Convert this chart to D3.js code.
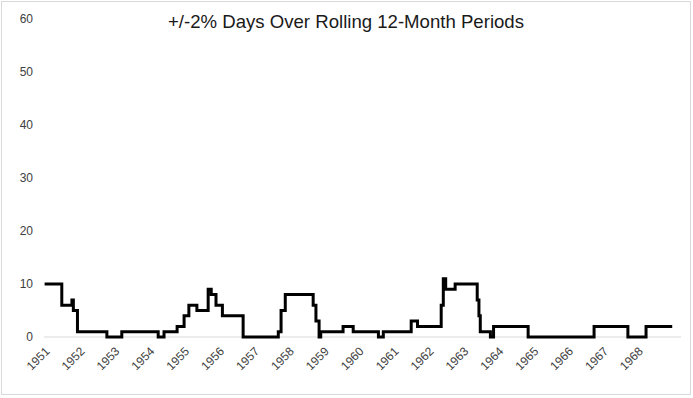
<!DOCTYPE html>
<html>
<head>
    <title>+/-2% Days</title>
    <meta charset="utf-8">
    <script src="https://cdn.jsdelivr.net/npm/d3@7"></script>
    <style>
        body {
            margin: 0;
            background: #fff;
        }
        text {
            font-family: "Liberation Sans", Arial, sans-serif;
        }
        .line {
            fill: none;
            stroke: #000;
            stroke-width: 3px;
            stroke-linejoin: miter;
        }
        .tick-label {
            font-size: 12px;
            fill: #404040;
        }
    </style>
</head>
<body>
    <div id="chart"></div>

    <script>
        // step points: date where the count changes, new count
        const dates = [
            "1951-01-02", "1951-07-01", "1951-10-15", "1951-10-30", "1951-12-12",
            "1952-10-15", "1953-03-20", "1954-04-05", "1954-06-05", "1954-10-20",
            "1955-01-01", "1955-02-20", "1955-05-15", "1955-09-10", "1955-10-12",
            "1955-12-01", "1956-02-06", "1956-09-10", "1957-09-13", "1957-10-12",
            "1957-11-25", "1958-09-13", "1958-10-12", "1958-11-14", "1958-12-01",
            "1959-07-23", "1959-11-06", "1960-07-27", "1960-09-16", "1961-07-05",
            "1961-09-09", "1962-05-15", "1962-06-06", "1962-07-01", "1962-10-08",
            "1963-05-27", "1963-06-14", "1963-06-28", "1963-10-12", "1963-11-14",
            "1964-11-10", "1966-10-01", "1967-09-20", "1968-03-28", "1968-12-27"
        ];
        const counts = [
            10, 6, 7, 5, 1,
            0, 1, 0, 1, 2,
            4, 6, 5, 9, 8,
            6, 4, 0, 1, 5,
            8, 6, 3, 0, 1,
            2, 1, 0, 1, 3,
            2, 6, 11, 9, 10,
            7, 4, 1, 0, 2,
            0, 2, 0, 2, 2
        ];
        const yearLabels = d3.range(1951, 1969);
        const yTicks = [0, 10, 20, 30, 40, 50, 60];
        const title = "+/-2% Days Over Rolling 12-Month Periods";

        const W = 693, H = 398;
        const parse = d3.timeParse("%Y-%m-%d");
        const data = dates.map((d, i) => ({date: parse(d), value: counts[i]}));

        const svg = d3.select("#chart")
            .append("svg")
            .attr("width", W)
            .attr("height", H);

        // chart border
        svg.append("rect")
            .attr("x", 1.5)
            .attr("y", 1.5)
            .attr("width", 689)
            .attr("height", 393)
            .attr("fill", "#fff")
            .attr("stroke", "#d9d9d9");

        const x = d3.scaleTime()
            .domain([new Date(1951, 0, 1), new Date(1969, 0, 1)])
            .range([44.5, 672.7]);

        const y = d3.scaleLinear()
            .domain([0, 60])
            .range([337, 19]);

        svg.append("text")
            .attr("x", 346)
            .attr("y", 28)
            .attr("text-anchor", "middle")
            .attr("font-size", "18.6px")
            .attr("fill", "#1a1a1a")
            .text(title);

        // y labels
        svg.append("g")
            .selectAll("text")
            .data(yTicks)
            .join("text")
            .attr("class", "tick-label")
            .attr("x", 33)
            .attr("y", d => y(d))
            .attr("dy", "0.35em")
            .attr("text-anchor", "end")
            .text(d => d);

        // baseline
        svg.append("line")
            .attr("x1", 44)
            .attr("x2", 681)
            .attr("y1", y(0))
            .attr("y2", y(0))
            .attr("stroke", "#d9d9d9")
            .attr("stroke-width", 1);

        // x labels, rotated
        svg.append("g")
            .selectAll("text")
            .data(yearLabels)
            .join("text")
            .attr("class", "tick-label")
            .attr("text-anchor", "end")
            .attr("transform", d => `translate(${x(new Date(d, 0, 1)) + 6},${352}) rotate(-45)`)
            .text(d => d);

        const line = d3.line()
            .x(d => x(d.date))
            .y(d => y(d.value))
            .curve(d3.curveStepAfter);

        svg.append("path")
            .attr("class", "line")
            .attr("d", line(data));
    </script>
</body>
</html>
